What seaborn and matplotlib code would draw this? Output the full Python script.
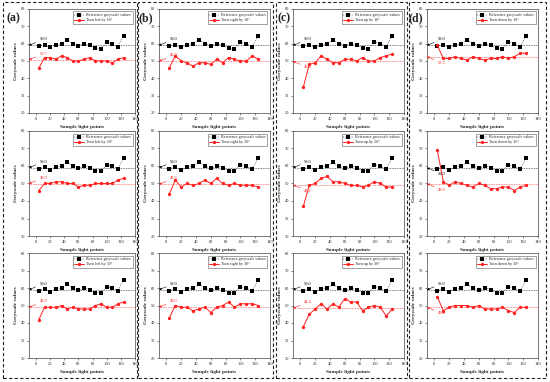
import matplotlib
matplotlib.use("Agg")
import matplotlib.pyplot as plt
import seaborn as sns
import pandas as pd
from matplotlib.patches import Rectangle

sns.set_theme(style="white")
plt.rcParams['font.family'] = ['Liberation Serif', 'DejaVu Serif']

# ---------------- data ----------------
x_points = [4, 12, 20, 28, 36, 44, 52, 60, 68, 76, 84, 92, 100, 108, 116, 124]
reference = [58.5, 59.3, 57.8, 59.5, 59.9, 62.2, 59.9, 58.7, 60.0, 59.1, 57.4, 57.2, 60.8, 59.9, 58.3, 64.7]
ref_mean_label = "59.0"
ref_mean = 59.0

left10 = [46, 52, 52, 51, 53, 52, 50, 50, 51, 52, 50, 50, 50, 49, 51, 52]
right10 = [46, 53, 50, 49, 47, 49, 49, 48, 51, 49, 52, 51, 50, 50, 53, 51]
up10 = [35, 48, 49, 53, 51, 49, 49, 51, 51, 50, 52, 50, 50, 52, 53, 54]
down10 = [59, 51.5, 51.5, 52.5, 51.5, 50.5, 52.5, 51.5, 50.5, 51.5, 51.5, 52.5, 51.5, 52.5, 54.5, 54.5]

left20 = [46, 50, 50, 51, 51, 50, 50, 48, 49, 49, 50, 50, 50, 50, 52, 53]
right20 = [44, 52, 48, 50, 49, 50, 52, 50, 53, 50, 49, 50, 49, 49, 49, 48]
up20 = [37, 49, 50, 53, 54, 51, 51, 50, 49, 49, 48, 49, 51, 50, 48, 48]
down20 = [69, 51, 49, 51, 50, 49, 48, 50, 49, 47, 47, 48, 48, 46, 48, 49]

left30 = [42, 49, 49, 49, 50, 48, 49, 48, 48, 48, 50, 51, 49, 49, 51, 52]
right30 = [43, 50, 49, 49, 47, 48, 49, 46, 49, 50, 52, 49, 51, 51, 51, 50]
up30 = [38, 45, 48, 51, 48, 51, 49, 54, 52, 52, 47, 49, 50, 49, 44, 48]
down30 = [55, 47, 49, 50, 50, 50, 49, 50, 48, 48, 48, 49, 47, 46, 49, 49]

series = [[left10, right10, up10, down10],
          [left20, right20, up20, down20],
          [left30, right30, up30, down30]]
legend_labels = [["Turn left by 10°", "Turn right by 10°", "Turn up by 10°", "Turn down by 10°"],
                 ["Turn left by 20°", "Turn right by 20°", "Turn up by 20°", "Turn down by 20°"],
                 ["Turn left by 30°", "Turn right by 30°", "Turn up by 30°", "Turn down by 30°"]]
mean_labels = [["50.7", "49.9", "49.8", "52.5"],
               ["49.9", "49.5", "49.2", "49.9"],
               ["48.9", "49.0", "48.4", "49.0"]]
# +1 label above the mean line, -1 below
red_side = [[1, 1, -1, -1], [1, 1, -1, -1], [1, 1, 1, -1]]
black_side = [[1, 1, 1, 1], [1, 1, 1, -1], [1, 1, 1, 1]]
panel_letters = ["(a)", "(b)", "(c)", "(d)"]
x_ticks = [0, 20, 40, 60, 80, 100, 120, 140]
y_ticks = [20, 30, 40, 50, 60, 70, 80]

# ---------------- layout ----------------
W, H = 550, 382
fig = plt.figure(figsize=(W / 100, H / 100), dpi=100)

col_l = [29, 159, 293, 427]
col_r = [135, 270, 404, 538]
row_t = [9, 131, 253]
row_b = [113, 236, 358]

RED = "#ff2020"

for r in range(3):
    for c in range(4):
        l, rr, t, b = col_l[c], col_r[c], row_t[r], row_b[r]
        ax = fig.add_axes([l / W, 1 - b / H, (rr - l) / W, (b - t) / H])
        df = pd.DataFrame({"x": x_points, "ref": reference, "red": series[r][c]})
        sns.lineplot(data=df, x="x", y="ref", ax=ax, color="black", lw=0.35,
                     linestyle=(0, (2, 2.5)), marker="s", markersize=2.6,
                     markeredgewidth=0, label="Reference greyscale values")
        sns.lineplot(data=df, x="x", y="red", ax=ax, color=RED, lw=0.7,
                     marker="o", markersize=2.4, markeredgewidth=0,
                     label=legend_labels[r][c])
        mval = float(mean_labels[r][c])
        ax.axhline(ref_mean, color="#555555", lw=0.6, ls=(0, (1, 1)), zorder=0)
        ax.axhline(mval, color="#ff6060", lw=0.6, ls=(0, (1, 1)), zorder=0)
        ax.set_xlim(-10, 140)
        ax.set_ylim(20, 80)
        ax.set_xticks(x_ticks)
        ax.set_yticks(y_ticks)
        ax.tick_params(labelsize=3.2, length=1.5, width=0.4, pad=1.5, direction="out",
                       bottom=True, left=True)
        for s in ax.spines.values():
            s.set_color("#444444")
            s.set_linewidth(0.5)
        ax.set_xlabel("Sample light points", fontsize=3.8, fontweight="bold", labelpad=2.5)
        ax.set_ylabel("Greyscale values", fontsize=3.8, fontweight="bold", labelpad=2)
        leg = ax.legend(loc="upper right", fontsize=3, frameon=True, handlelength=2.2,
                        borderpad=0.4, labelspacing=0.3, handletextpad=0.6,
                        fancybox=False, borderaxespad=0.6)
        leg.get_frame().set_edgecolor("#333333")
        leg.get_frame().set_linewidth(0.4)
        # annotations
        bs = black_side[r][c]
        ax.annotate(ref_mean_label, xy=(-10, ref_mean), xytext=(5, ref_mean + 3.5 * bs),
                    fontsize=3.2, color="black", va="center", ha="left",
                    arrowprops=dict(arrowstyle="-|>", lw=0.4, color="black",
                                    mutation_scale=3, shrinkA=0.5, shrinkB=0))
        rs = red_side[r][c]
        ax.annotate(mean_labels[r][c], xy=(-10, mval), xytext=(5, mval + 3.5 * rs),
                    fontsize=3.2, color=RED, va="center", ha="left",
                    arrowprops=dict(arrowstyle="-|>", lw=0.4, color=RED,
                                    mutation_scale=3, shrinkA=0.5, shrinkB=0))

# panel letters
letter_x = [13, 146, 284, 416]
for c in range(4):
    fig.text(letter_x[c] / W, 1 - 18 / H, panel_letters[c], fontsize=8.5,
             fontweight="bold", ha="center", va="center")

# dashed column boxes
box_l = [3, 138, 276, 409]
box_r = [137, 273, 407, 546]
for c in range(4):
    fig.patches.append(Rectangle((box_l[c] / W, 1 - 378 / H), (box_r[c] - box_l[c]) / W,
                                 (378 - 2) / H, transform=fig.transFigure, fill=False,
                                 ec="#222222", lw=0.8, ls=(0, (3, 2))))

fig.savefig("out.png", dpi=100)
